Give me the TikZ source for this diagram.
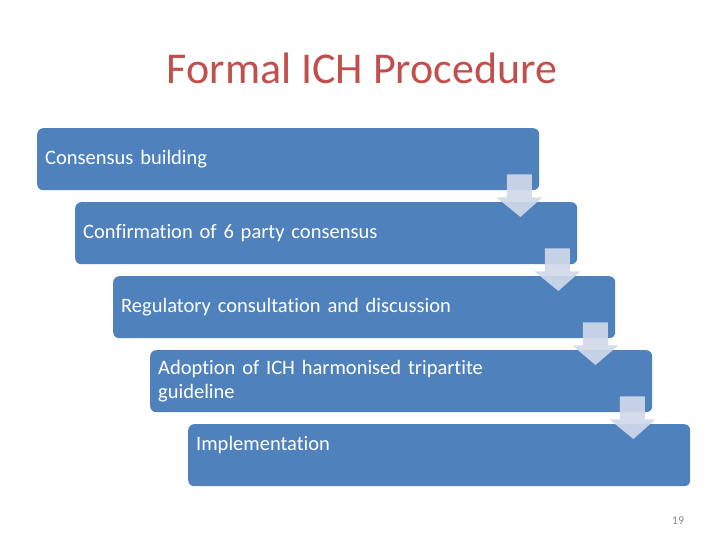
\documentclass[tikz,border=0pt]{standalone}
\usepackage{fontspec}
\setmainfont{Carlito}[Ligatures=NoCommon]
\usetikzlibrary{calc}
\definecolor{boxblue}{HTML}{4F81BD}
\definecolor{titlered}{HTML}{C0504D}
\definecolor{arrowfill}{HTML}{D0D8E8}
\definecolor{pagegray}{HTML}{8C8C8C}
\tikzset{
  stepbox/.style={draw=none, fill=boxblue, rounded corners=6pt, anchor=north west,
    minimum height=62pt, text width=486pt, inner xsep=8pt, inner ysep=0pt,
    align=left, text=white, font=\fontsize{20.5}{23.5}\selectfont},
  downarrow/.style={fill=arrowfill, fill opacity=0.92, draw=none}
}
\newcommand{\stairarrow}[2]{%
  \fill[downarrow] ($(#1.south east)+(-32.5,-16)$) -- ($(#1.south east)+(-7.5,-16)$)
    -- ($(#1.south east)+(-7.5,7)$) -- ($(#1.south east)+(3,7)$)
    -- ($(#2.north east)+(-57,15)$) -- ($(#1.south east)+(-43,7)$)
    -- ($(#1.south east)+(-32.5,7)$) -- cycle;}
\begin{document}
\begin{tikzpicture}[x=1pt,y=-1pt]
\useasboundingbox (0,0) rectangle (728,546);
\node[font=\fontsize{44}{52}\selectfont, text=titlered] (title) at (362,68) {Formal ICH Procedure};
\node[stepbox] (b1) at (37,128) {Consensus building};
\node[stepbox] (b2) at (75,202) {Confirmation of 6 party consensus};
\node[stepbox] (b3) at (113,276) {Regulatory consultation and discussion};
\node[stepbox] (b4) at (150,350) {Adoption of ICH harmonised tripartite\\guideline};
\node[stepbox] (b5) at (188,424) {Implementation\\\mbox{}};
\stairarrow{b1}{b2}
\stairarrow{b2}{b3}
\stairarrow{b3}{b4}
\stairarrow{b4}{b5}
\node[font=\fontsize{12}{14}\selectfont, text=pagegray] (page) at (678,521) {19};
\end{tikzpicture}
\end{document}
